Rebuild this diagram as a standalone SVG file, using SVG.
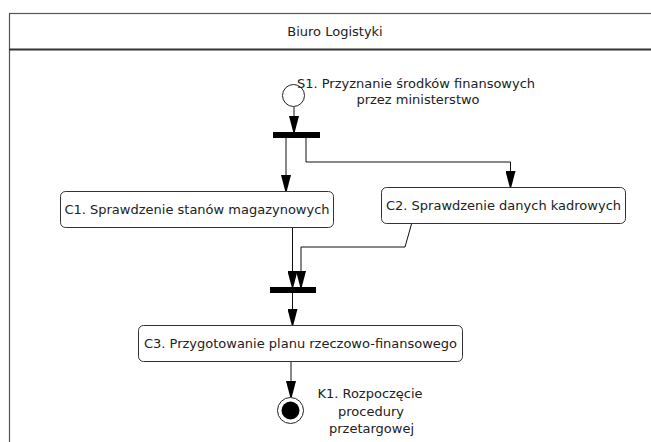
<svg xmlns="http://www.w3.org/2000/svg" width="651" height="442" viewBox="0 0 651 442">
<style>
text{font-family:"DejaVu Sans","Liberation Sans",sans-serif;font-size:13px;fill:#222}
.box{fill:#fff;stroke:#333;stroke-width:1}
.bar{fill:#000}
.c{fill:none;stroke:#111;stroke-width:1}
</style>
<defs>
<marker id="ah" markerWidth="16" markerHeight="10" refX="16" refY="5" orient="auto" markerUnits="userSpaceOnUse" viewBox="0 0 16 10">
<path d="M0,0 L16,4.2 L16,5.8 L0,10 Z" fill="#000"/>
</marker>
</defs>
<rect width="651" height="442" fill="#fff"/>
<g id="frame">
<rect x="9.5" y="13.5" width="700" height="500" fill="none" stroke="#555" stroke-width="1.2"/>
<line x1="9" y1="49.5" x2="651" y2="49.5" stroke="#333" stroke-width="2"/>
<text x="335" y="36" text-anchor="middle">Biuro Logistyki</text>
</g>
<g id="connectors">
<path class="c" d="M294,107 V132" marker-end="url(#ah)"/>
<path class="c" d="M286,138 V191" marker-end="url(#ah)"/>
<path class="c" d="M306,138 V162 H510.5 V187" marker-end="url(#ah)"/>
<path class="c" d="M292.5,228 V287" marker-end="url(#ah)"/>
<path class="c" d="M411.5,224 L405,247 H301 V287" marker-end="url(#ah)"/>
<path class="c" d="M292.5,293 V325" marker-end="url(#ah)"/>
<path class="c" d="M291,362 V397" marker-end="url(#ah)"/>
</g>
<g id="S1">
<circle cx="293.5" cy="95.5" r="11" fill="#fff" stroke="#222" stroke-width="1"/>
<text x="416" y="88" text-anchor="middle">S1. Przyznanie środków finansowych</text>
<text x="418" y="104" text-anchor="middle">przez ministerstwo</text>
</g>
<g id="fork1"><rect class="bar" x="273" y="132" width="47" height="6"/></g>
<g id="C1">
<rect class="box" x="60.5" y="191.5" width="273" height="36" rx="5"/>
<text x="197" y="213.5" text-anchor="middle">C1. Sprawdzenie stanów magazynowych</text>
</g>
<g id="C2">
<rect class="box" x="381.5" y="187.5" width="244" height="36" rx="5"/>
<text x="503.5" y="210" text-anchor="middle">C2. Sprawdzenie danych kadrowych</text>
</g>
<g id="join1"><rect class="bar" x="270" y="287" width="46" height="6"/></g>
<g id="C3">
<rect class="box" x="138.5" y="325.5" width="324" height="36" rx="5"/>
<text x="300.5" y="348" text-anchor="middle">C3. Przygotowanie planu rzeczowo-finansowego</text>
</g>
<g id="K1">
<circle cx="290.5" cy="410.5" r="13" fill="#fff" stroke="#222" stroke-width="1"/>
<circle cx="290.5" cy="410.5" r="9" fill="#000"/>
<text x="370" y="398" text-anchor="middle">K1. Rozpoczęcie</text>
<text x="371" y="415.5" text-anchor="middle">procedury</text>
<text x="371.5" y="433" text-anchor="middle">przetargowej</text>
</g>
</svg>
